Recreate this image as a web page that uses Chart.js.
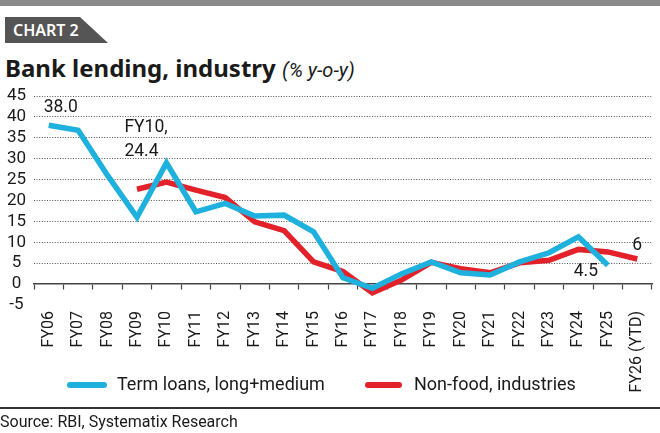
<!DOCTYPE html>
<html>
<head>
<meta charset="utf-8">
<script src="https://cdn.jsdelivr.net/npm/chart.js@4.4.0/dist/chart.umd.min.js"></script>
<style>
  body { margin:0; background:#fff; }
  #wrap { position:relative; width:660px; height:433px; overflow:hidden; font-family:Roboto,sans-serif; color:#1a1a1a; }
  #topbar { position:absolute; left:0; top:0; width:660px; height:6px; background:#8a8a8a; }
  #tag { position:absolute; left:5px; top:17px; width:103px; height:26px; background:#555;
         clip-path:polygon(0 0,75px 0,103px 26px,0 26px); }
  #tag span { position:absolute; left:8px; top:2px; color:#fff; font:600 16px "Noto Sans",sans-serif; }
  #title { position:absolute; left:5px; top:51px; font:bold 24px "Noto Sans",sans-serif; color:#1a1a1a; white-space:nowrap; }
  #title i { font:italic 400 20px Roboto,sans-serif; }
  canvas { position:absolute; left:0; top:0; }
  .sw { position:absolute; height:6px; border-radius:3px; }
  .lg { position:absolute; font-size:18px; white-space:nowrap; }
  #rule { position:absolute; left:0; top:407px; width:660px; height:2px; background:#333; }
  #src { position:absolute; left:0; top:412px; font-size:16px; white-space:nowrap; }
</style>
</head>
<body>
<div id="wrap">
  <div id="topbar"></div>
  <div id="tag"><span>CHART 2</span></div>
  <div id="title">Bank lending, industry <i>(% y-o-y)</i></div>
  <canvas id="chart" width="660" height="433"></canvas>
  <div class="sw" style="left:67px;top:382px;width:40px;background:#1fb1de"></div>
  <div class="lg" style="left:117px;top:373px">Term loans, long+medium</div>
  <div class="sw" style="left:365px;top:382px;width:37px;background:#e3212b"></div>
  <div class="lg" style="left:414px;top:373px">Non-food, industries</div>
  <div id="rule"></div>
  <div id="src">Source: RBI, Systematix Research</div>
</div>
<script>
var years = ['FY06','FY07','FY08','FY09','FY10','FY11','FY12','FY13','FY14','FY15','FY16',
             'FY17','FY18','FY19','FY20','FY21','FY22','FY23','FY24','FY25','FY26 (YTD)'];
var termLoans = [38.0, 36.8, 26.0, 16.0, 29.0, 17.3, 19.3, 16.3, 16.5, 12.5, 1.5,
                 -1.0, 2.5, 5.3, 2.7, 2.2, 5.3, 7.5, 11.3, 4.5, null];
var nonFood = [null, null, null, 22.7, 24.4, 22.5, 20.7, 14.9, 12.8, 5.3, 3.0,
               -2.1, 1.0, 5.2, 3.7, 2.7, 5.1, 5.7, 8.3, 7.7, 6.0];
var yTicks = [-5, 0, 5, 10, 15, 20, 25, 30, 35, 40, 45];

var BLUE = '#1fb1de';
var RED = '#e3212b';
var FONT = 'Roboto, sans-serif';

// value callouts, placed relative to their point
var notes = [
  { ds: 0, i: 0, lines: ['38.0'], dx: 12, dy: -13, align: 'center' },
  { ds: 1, i: 4, lines: ['FY10,', '24.4'], dx: -42, dy: -50, align: 'left' },
  { ds: 0, i: 19, lines: ['4.5'], dx: -22, dy: 11, align: 'center' },
  { ds: 1, i: 20, lines: ['6'], dx: 0, dy: -9, align: 'center' }
];

var notePlugin = {
  id: 'notes',
  afterDatasetsDraw: function(chart) {
    var ctx = chart.ctx;
    ctx.save();
    ctx.fillStyle = '#1a1a1a';
    ctx.font = '17.5px ' + FONT;
    ctx.textBaseline = 'alphabetic';
    notes.forEach(function(n) {
      var pt = chart.getDatasetMeta(n.ds).data[n.i];
      ctx.textAlign = n.align;
      n.lines.forEach(function(t, k) {
        ctx.fillText(t, pt.x + n.dx, pt.y + n.dy + k * 24);
      });
    });
    ctx.restore();
  }
};

var ctx = document.getElementById('chart').getContext('2d');
var myChart = new Chart(ctx, {
  type: 'line',
  data: {
    labels: years,
    datasets: [{
      label: 'Term loans, long+medium',
      data: termLoans,
      borderColor: BLUE,
      borderWidth: 5.5,
      pointRadius: 0,
      tension: 0,
      borderJoinStyle: 'miter'
    }, {
      label: 'Non-food, industries',
      data: nonFood,
      borderColor: RED,
      borderWidth: 5.5,
      pointRadius: 0,
      tension: 0,
      borderJoinStyle: 'miter'
    }]
  },
  options: {
    responsive: false,
    animation: false,
    layout: { padding: { top: 96, right: 8, bottom: 0, left: 0 } },
    plugins: { legend: { display: false }, tooltip: { enabled: false } },
    scales: {
      x: {
        type: 'category',
        offset: true,
        grid: { display: false },
        border: { display: false },
        ticks: { minRotation: 90, maxRotation: 90, padding: -2, autoSkip: false, color: '#1a1a1a',
                 font: { family: FONT, size: 16 } },
        afterFit: function(s) { s.height = 128; }
      },
      x0: {
        type: 'category',
        position: { y: 0 },
        offset: true,
        grid: { drawOnChartArea: false, drawTicks: true, tickLength: 5, offset: true,
                color: '#444', tickColor: '#444', tickWidth: 1.2 },
        border: { display: true, color: '#444', width: 1.5 },
        ticks: { display: false }
      },
      y: {
        min: -5,
        max: 45,
        afterBuildTicks: function(s) { s.ticks = yTicks.map(function(v) { return { value: v }; }); },
        grid: {
          drawTicks: false,
          lineWidth: 1,
          color: function(c) { return c.tick && c.tick.value > 0 ? '#555' : 'rgba(0,0,0,0)'; }
        },
        border: { display: false, dash: [1, 1.6] },
        ticks: { padding: 8, crossAlign: 'center', autoSkip: false, color: '#1a1a1a',
                 font: { family: FONT, size: 17 } },
        afterFit: function(s) { s.width = 34; }
      }
    }
  },
  plugins: [notePlugin]
});
</script>
</body>
</html>
